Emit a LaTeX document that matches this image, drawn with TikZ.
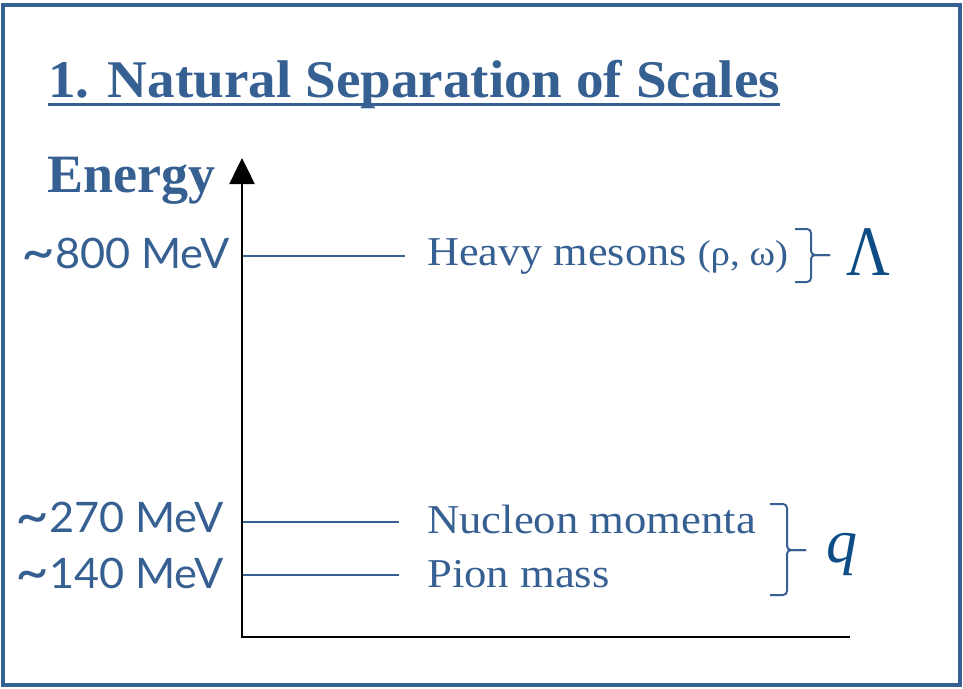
\documentclass[tikz,border=0pt]{standalone}
\usepackage{fontspec}
\setmainfont{Liberation Serif}
\newfontfamily\labfont{Lato}
\usetikzlibrary{arrows.meta}
\definecolor{txtblue}{HTML}{376092}
\definecolor{mathblue}{HTML}{0E4C85}
\newcommand{\bigtilde}{\raisebox{-0.09em}{\scalebox{1.35}{\textasciitilde}}}
\begin{document}
\begin{tikzpicture}[x=1pt,y=-1pt,
  lbl/.style={inner sep=0pt, anchor=base west, text=txtblue},
  mev/.style={inner sep=0pt, anchor=base east, text=txtblue, font=\labfont\fontsize{42}{48}\selectfont},
  ser/.style={lbl, font=\fontsize{41}{48}\selectfont},
  tick/.style={draw=txtblue, line width=2pt},
  brace/.style={draw=txtblue, line width=2pt, rounded corners=4pt},
  axis/.style={draw=black, line width=2.5pt},
  mathlbl/.style={inner sep=0pt, anchor=base west, text=mathblue}]
\useasboundingbox (0,0) rectangle (963,688);
% frame
\draw[txtblue, line width=4pt] (3,4.5) rectangle (960,685);
% title
\node[lbl, font=\fontsize{53}{60}\selectfont\bfseries] (title) at (48,97) {\scalebox{1.04}[1]{1. Natural Separation of Scales}};
\draw[txtblue, line width=3pt] ([yshift=-7.5pt]title.base west) -- ([yshift=-7.5pt]title.base east);
% energy
\node[lbl, font=\fontsize{54}{60}\selectfont\bfseries] (energy) at (47,192) {Energy};
% axes
\coordinate (o) at (242,637);
\coordinate (top) at (242,158);
\coordinate (right) at (850,637);
\draw[axis, -{Triangle[width=25pt,length=26pt]}] (o) -- (top);
\draw[axis] ([xshift=-1.25pt]o) -- (right);
% energy labels
\node[mev] (e800) at (230,268) {\scalebox{1.03}[1]{\bigtilde800 MeV}};
\node[mev] (e270) at (224,532) {\scalebox{1.03}[1]{\bigtilde270 MeV}};
\node[mev] (e140) at (224,588) {\scalebox{1.03}[1]{\bigtilde140 MeV}};
% level lines
\coordinate (a800) at (243,256);
\coordinate (b800) at (405,256);
\coordinate (a270) at (243,522);
\coordinate (b270) at (399,522);
\coordinate (a140) at (243,575);
\coordinate (b140) at (399,575);
\draw[tick] (a800) -- (b800);
\draw[tick] (a270) -- (b270);
\draw[tick] (a140) -- (b140);
% descriptions
\node[ser] (mes) at (427,265) {\scalebox{1.08}[1]{Heavy mesons {\fontsize{36}{40}\selectfont(ρ, ω)}}};
\node[ser] (nuc) at (427,533) {\scalebox{1.09}[1]{Nucleon momenta}};
\node[ser] (pion) at (427,587) {\scalebox{1.09}[1]{Pion mass}};
% braces
\draw[brace] (795,229) -- (811,229) -- (811,255) -- (830,255);
\draw[brace] (795,282) -- (811,282) -- (811,255) -- (830,255);
\draw[brace] (770,504) -- (787,504) -- (787,550) -- (806,550);
\draw[brace] (770,595) -- (787,595) -- (787,550) -- (806,550);
% symbols
\node[mathlbl, font=\fontsize{71}{80}\selectfont] (lam) at (846,275) {\scalebox{0.85}[1]{Λ}};
\node[mathlbl, font=\fontsize{62}{70}\selectfont\itshape] (q) at (826,562) {q};
\end{tikzpicture}
\end{document}
